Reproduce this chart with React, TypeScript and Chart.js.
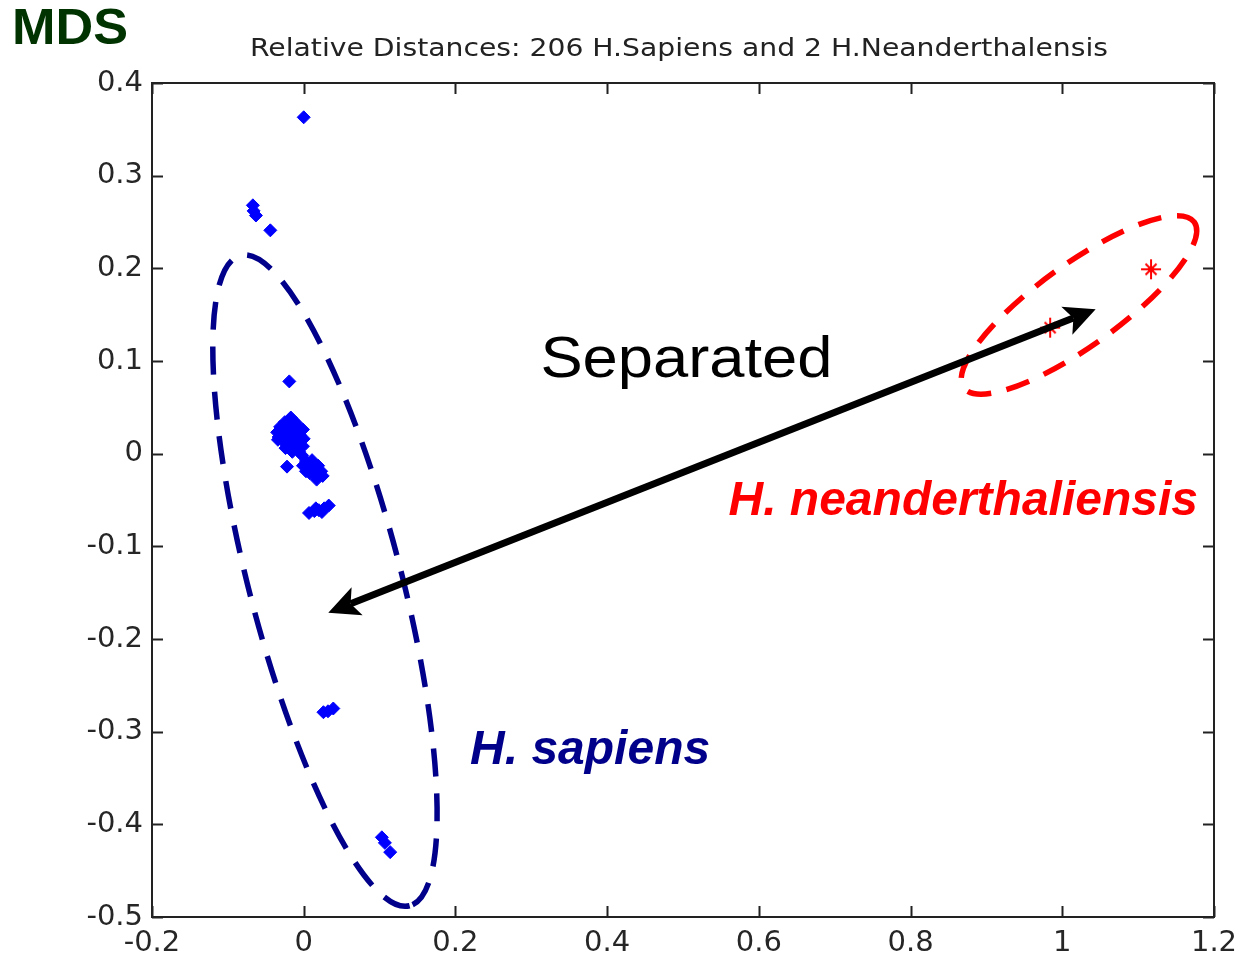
import React, { useEffect, useRef } from "react";
import { Chart, registerables } from "chart.js";

Chart.register(...registerables);

// ---- Data ----
const titleText = "Relative Distances: 206 H.Sapiens and 2 H.Neanderthalensis";
const cornerLabel = "MDS";
const xMin = -0.2;
const xMax = 1.2;
const xStep = 0.2;
const yMin = -0.5;
const yMax = 0.4;
const yStep = 0.1;

const sapiensX = [
  0.0, -0.067, -0.066, -0.063, -0.044, -0.019,
  -0.017, -0.025, -0.01, -0.031, -0.019, -0.008, -0.001, -0.035, -0.026, -0.015,
  -0.005, -0.033, -0.022, -0.011, 0.0, -0.027, -0.017, -0.006, -0.021, -0.01,
  -0.001, -0.015, -0.006, -0.002, -0.03, -0.022, -0.014, -0.024, -0.034, -0.02,
  -0.022,
  0.003, 0.011, -0.001, 0.008, 0.019, 0.014, 0.023, 0.003, 0.018, 0.025, 0.017, 0.008,
  0.007, 0.014, 0.02, 0.027, 0.033, 0.016, 0.024,
  0.026, 0.032, 0.039, 0.103, 0.107, 0.114,
];
const sapiensY = [
  0.363, 0.268, 0.262, 0.257, 0.241, 0.078,
  0.039, 0.034, 0.033, 0.029, 0.029, 0.028, 0.026, 0.023, 0.023, 0.023,
  0.02, 0.018, 0.018, 0.017, 0.016, 0.013, 0.013, 0.012, 0.007, 0.007,
  0.008, 0.002, 0.002, -0.002, 0.028, 0.031, 0.036, 0.006, 0.015, 0.025,
  -0.014,
  -0.008, -0.007, -0.013, -0.014, -0.013, -0.02, -0.019, -0.019, -0.025, -0.024, -0.028, -0.021,
  -0.064, -0.062, -0.061, -0.059, -0.056, -0.059, -0.063,
  -0.279, -0.278, -0.275, -0.414, -0.42, -0.43,
];
const neanderX = [0.984, 1.117];
const neanderY = [0.136, 0.199];

// ---- Annotation settings (anchored in data space) ----
const sapiensEllipse = { cx: 0.028, cy: -0.137, rx: 336, ry: 76, angleDeg: 75.4, color: "#00008B", dash: [28, 17] };
const neanderEllipse = { cx: 1.022, cy: 0.1605, rx: 142, ry: 41, angleDeg: -35.7, color: "#FF0000", dash: [24, 16] };
const arrowFrom = { x: 0.0324, y: -0.1716 };
const arrowTo = { x: 1.044, y: 0.1558 };
const separatedLabel = { text: "Separated", x: 0.312, y: 0.083 };
const neanderLabel = { text: "H. neanderthaliensis", x: 0.56, y: -0.066 };
const sapiensLabel = { text: "H. sapiens", x: 0.2193, y: -0.335 };

const fmtTick = (v: number) => String(Math.round(v * 10) / 10);

function makeStar(): HTMLCanvasElement {
  const c = document.createElement("canvas");
  c.width = 22;
  c.height = 22;
  const g = c.getContext("2d")!;
  g.strokeStyle = "#FF0000";
  g.fillStyle = "#FF0000";
  g.lineWidth = 2;
  g.beginPath();
  g.moveTo(11, 1); g.lineTo(11, 21);
  g.moveTo(1, 11); g.lineTo(21, 11);
  g.moveTo(5.5, 5.5); g.lineTo(16.5, 16.5);
  g.moveTo(16.5, 5.5); g.lineTo(5.5, 16.5);
  g.stroke();
  g.beginPath();
  g.arc(11, 11, 3, 0, Math.PI * 2);
  g.fill();
  return c;
}

function drawText(ctx: CanvasRenderingContext2D, text: string, x: number, y: number, font: string, color: string, targetWidth?: number) {
  ctx.save();
  ctx.font = font;
  ctx.fillStyle = color;
  ctx.textAlign = "left";
  ctx.textBaseline = "alphabetic";
  if (targetWidth) {
    const w = ctx.measureText(text).width;
    ctx.translate(x, y);
    ctx.scale(targetWidth / w, 1);
    ctx.fillText(text, 0, 0);
  } else {
    ctx.fillText(text, x, y);
  }
  ctx.restore();
}

const framePlugin = {
  id: "matlabFrame",
  beforeDatasetsDraw(chart: any) {
    const { ctx, chartArea: a, scales } = chart;
    ctx.save();
    ctx.strokeStyle = "#222";
    ctx.lineWidth = 2;
    ctx.strokeRect(a.left, a.top, a.right - a.left, a.bottom - a.top);
    const len = 11;
    ctx.beginPath();
    scales.x.ticks.forEach((t: any) => {
      const px = Math.round(scales.x.getPixelForValue(t.value)) + 0.5;
      ctx.moveTo(px, a.bottom); ctx.lineTo(px, a.bottom - len);
      ctx.moveTo(px, a.top); ctx.lineTo(px, a.top + len);
    });
    scales.y.ticks.forEach((t: any) => {
      const py = Math.round(scales.y.getPixelForValue(t.value)) + 0.5;
      ctx.moveTo(a.left, py); ctx.lineTo(a.left + len, py);
      ctx.moveTo(a.right, py); ctx.lineTo(a.right - len, py);
    });
    ctx.stroke();
    ctx.restore();
  },
};

function drawEllipse(chart: any, e: any) {
  const { ctx, scales } = chart;
  const cx = scales.x.getPixelForValue(e.cx);
  const cy = scales.y.getPixelForValue(e.cy);
  ctx.save();
  ctx.strokeStyle = e.color;
  ctx.lineWidth = 5.5;
  ctx.setLineDash(e.dash);
  ctx.beginPath();
  ctx.ellipse(cx, cy, e.rx, e.ry, (e.angleDeg * Math.PI) / 180, 0, Math.PI * 2);
  ctx.stroke();
  ctx.restore();
}

function drawArrow(chart: any) {
  const { ctx, scales } = chart;
  const x1 = scales.x.getPixelForValue(arrowFrom.x);
  const y1 = scales.y.getPixelForValue(arrowFrom.y);
  const x2 = scales.x.getPixelForValue(arrowTo.x);
  const y2 = scales.y.getPixelForValue(arrowTo.y);
  const dx = x2 - x1, dy = y2 - y1;
  const L = Math.hypot(dx, dy);
  const ux = dx / L, uy = dy / L;
  const nx = -uy, ny = ux;
  const headLen = 31, headW = 15, notch = 7;
  ctx.save();
  ctx.strokeStyle = "#000";
  ctx.fillStyle = "#000";
  ctx.lineWidth = 7;
  ctx.beginPath();
  ctx.moveTo(x1 + ux * (headLen - notch), y1 + uy * (headLen - notch));
  ctx.lineTo(x2 - ux * (headLen - notch), y2 - uy * (headLen - notch));
  ctx.stroke();
  const head = (tx: number, ty: number, dirx: number, diry: number) => {
    const bx = tx - dirx * headLen, by = ty - diry * headLen;
    ctx.beginPath();
    ctx.moveTo(tx, ty);
    ctx.lineTo(bx + nx * headW, by + ny * headW);
    ctx.lineTo(tx - dirx * (headLen - notch), ty - diry * (headLen - notch));
    ctx.lineTo(bx - nx * headW, by - ny * headW);
    ctx.closePath();
    ctx.fill();
  };
  head(x2, y2, ux, uy);
  head(x1, y1, -ux, -uy);
  ctx.restore();
}

const annotationPlugin = {
  id: "annotations",
  afterDatasetsDraw(chart: any) {
    const { ctx, scales } = chart;
    drawEllipse(chart, sapiensEllipse);
    drawEllipse(chart, neanderEllipse);
    drawArrow(chart);
    const px = (v: number) => scales.x.getPixelForValue(v);
    const py = (v: number) => scales.y.getPixelForValue(v);
    drawText(ctx, separatedLabel.text, px(separatedLabel.x), py(separatedLabel.y), '57px "Liberation Sans", Arial, sans-serif', "#000", 292);
    drawText(ctx, neanderLabel.text, px(neanderLabel.x), py(neanderLabel.y), 'italic bold 48px "Liberation Sans", Arial, sans-serif', "#FF0000");
    drawText(ctx, sapiensLabel.text, px(sapiensLabel.x), py(sapiensLabel.y), 'italic bold 48px "Liberation Sans", Arial, sans-serif', "#00008B");
  },
  afterDraw(chart: any) {
    const { ctx, chartArea: a } = chart;
    const target = 858;
    const mid = (a.left + a.right) / 2 - 4;
    drawText(ctx, titleText, mid - target / 2, 56, '24px "DejaVu Sans", sans-serif', "#222", target);
    drawText(ctx, cornerLabel, 12, 44, 'bold 50px "Liberation Sans", Arial, sans-serif', "#003300", 116);
  },
};

export default function App() {
  const canvasRef = useRef<HTMLCanvasElement | null>(null);

  useEffect(() => {
    document.body.style.margin = "0";
    const canvas = canvasRef.current!;
    const star = makeStar();
    const tickFont = { family: '"DejaVu Sans", sans-serif', size: 29 };
    const chart = new Chart(canvas, {
      type: "scatter",
      data: {
        datasets: [
          {
            label: "H. sapiens",
            data: sapiensX.map((x, i) => ({ x, y: sapiensY[i] })),
            pointStyle: "rectRot",
            pointRadius: 6.5,
            backgroundColor: "#0000FF",
            borderColor: "#0000FF",
            borderWidth: 1,
          },
          {
            label: "H. neanderthalensis",
            data: neanderX.map((x, i) => ({ x, y: neanderY[i] })),
            pointStyle: star as any,
            pointRadius: 11,
            backgroundColor: "#FF0000",
            borderColor: "#FF0000",
          },
        ],
      },
      options: {
        animation: false,
        responsive: false,
        maintainAspectRatio: false,
        layout: { padding: { left: 0, top: 83, right: 26, bottom: 0 } },
        plugins: {
          legend: { display: false },
          tooltip: { enabled: false },
          title: { display: false },
        },
        scales: {
          x: {
            type: "linear",
            min: xMin,
            max: xMax,
            grid: { display: false, drawTicks: false },
            border: { display: false },
            ticks: {
              stepSize: xStep,
              autoSkip: false,
              maxRotation: 0,
              padding: 9,
              color: "#262626",
              font: tickFont,
              callback: (v: any) => fmtTick(Number(v)),
            },
            afterFit: (s: any) => {
              s.height = 44;
              s.paddingLeft = 0;
              s.paddingRight = 0;
            },
          },
          y: {
            type: "linear",
            min: yMin,
            max: yMax,
            grid: { display: false, drawTicks: false },
            border: { display: false },
            ticks: {
              stepSize: yStep,
              autoSkip: false,
              padding: 9,
              color: "#262626",
              font: tickFont,
              callback: (v: any) => fmtTick(Number(v)),
            },
            afterFit: (s: any) => {
              s.width = 152;
              s.paddingTop = 0;
              s.paddingBottom = 0;
            },
          },
        },
      },
      plugins: [framePlugin, annotationPlugin],
    } as any);
    return () => chart.destroy();
  }, []);

  return (
    <div style={{ width: 1240, height: 961, background: "#fff" }}>
      <canvas ref={canvasRef} width={1240} height={961} style={{ display: "block" }} />
    </div>
  );
}
